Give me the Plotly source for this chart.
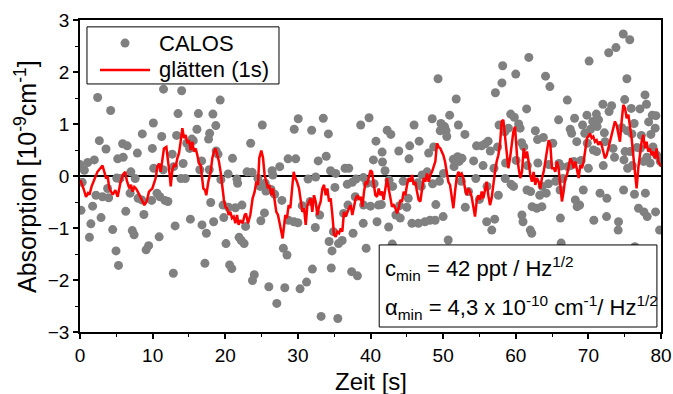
import plotly.graph_objects as go

# ---- data: CALOS raw points (time s, absorption 1e-9 cm^-1) ----
calos_t = [0.0, 0.14, 0.3, 0.6, 1.06, 1.3, 1.5, 1.74, 1.97, 2.2, 2.43, 2.66, 2.9, 3.1, 3.58, 3.8, 3.95,
           4.22, 4.5, 4.96, 5.05, 5.19, 5.3, 5.5, 5.87, 5.95, 6.3, 6.5, 6.9, 7.0, 7.2, 7.45, 7.6, 7.9,
           8.0, 8.5, 8.58, 8.8, 9.1, 9.45, 9.87, 9.96, 10.1, 10.15, 10.6, 10.9, 11.0, 11.25, 11.45, 11.5,
           11.7, 12.1, 12.7, 12.85, 12.9, 13.1, 13.3, 13.5, 13.9, 14.0, 14.2, 14.5, 14.7, 15.1, 15.2,
           15.4, 15.6, 16.1, 16.3, 16.5, 16.75, 16.8, 17.2, 17.4, 17.7, 17.8, 17.85, 18.0, 18.3, 18.4,
           18.7, 18.75, 19.0, 19.3, 19.4, 19.7, 19.8, 20.1, 20.4, 20.45, 20.6, 20.9, 21.0, 21.4, 21.6,
           21.7, 21.9, 22.2, 22.3, 22.6, 22.8, 23.0, 23.5, 23.7, 23.75, 24.0, 24.5, 24.8, 24.9, 25.1,
           25.4, 25.5, 25.6, 26.0, 26.3, 26.45, 26.55, 26.8, 27.1, 27.5, 27.8, 28.0, 28.2, 28.5, 28.65,
           28.7, 29.5, 29.45, 29.7, 30.0, 30.05, 30.3, 30.6, 31.2, 31.4, 31.7, 31.9, 32.0, 32.4, 32.45,
           32.8, 33.0, 33.2, 33.5, 33.9, 34.2, 34.3, 34.5, 34.6, 34.7, 34.9, 35.1, 35.2, 35.5, 35.6,
           36.1, 36.3, 36.5, 36.8, 36.9, 37.0, 37.4, 37.5, 37.6, 37.9, 38.0, 38.2, 38.65, 39.0, 39.02,
           39.05, 39.4, 39.5, 39.8, 40.0, 40.4, 40.5, 40.75, 40.9, 41.1, 41.5, 41.6, 41.65, 42.0, 42.3,
           42.5, 42.55, 42.8, 43.0, 43.05, 43.5, 43.9, 44.0, 44.1, 44.5, 45.0, 45.2, 45.3, 45.4, 45.7,
           46.0, 46.5, 46.6, 46.7, 47.0, 47.1, 47.5, 47.8, 48.0, 48.2, 48.5, 48.55, 48.7, 48.9, 49.0,
           49.3, 49.5, 49.6, 49.7, 50.0, 50.05, 50.2, 50.4, 50.5, 50.7, 50.9, 51.4, 51.5, 51.8, 52.0,
           52.1, 52.2, 52.5, 52.6, 53.0, 53.05, 53.5, 54.2, 54.5, 54.6, 55.0, 55.3, 55.5, 55.8, 56.0,
           56.05, 56.2, 56.5, 56.7, 57.0, 57.1, 57.2, 57.5, 57.6, 57.7, 58.1, 58.2, 58.5, 58.55, 58.6,
           59.0, 59.3, 59.35, 59.7, 59.8, 60.0, 60.05, 60.4, 60.6, 60.8, 60.85, 61.0, 61.1, 61.5,
           61.55, 61.6, 61.8, 62.0, 62.05, 62.2, 62.25, 62.7, 62.9, 63.0, 63.05, 63.3, 63.6, 63.65,
           63.8, 64.1, 64.2, 64.5, 64.55, 64.7, 65.1, 65.5, 65.9, 65.95, 66.1, 66.15, 66.2, 66.25,
           66.5, 67.1, 67.15, 67.5, 67.55, 67.7, 68.0, 68.1, 68.2, 68.4, 68.45, 68.8, 69.0, 69.2, 69.3,
           69.5, 69.8, 69.85, 70.0, 70.1, 70.3, 70.6, 70.7, 70.75, 71.1, 71.15, 71.2, 71.4, 71.6, 72.0,
           72.05, 72.2, 72.3, 72.5, 72.55, 72.8, 72.85, 73.2, 73.4, 73.6, 73.8, 74.1, 74.15, 74.6,
           74.8, 74.85, 74.9, 75.0, 75.05, 75.3, 75.35, 75.4, 75.7, 75.75, 75.9, 76.0, 76.05, 76.3,
           76.35, 76.4, 76.7, 76.9, 77.1, 77.15, 77.3, 77.6, 77.65, 77.8, 77.85, 78.0, 78.05, 78.1,
           78.3, 78.5, 78.6, 78.8, 78.9, 79.2, 79.25, 79.3, 79.4, 79.8, 79.9]
calos_v = [0.22, -0.66, -0.12, 0.11, 0.26, -1.18, -0.92, -0.58, 0.31, -0.37, 1.51, 0.68, -0.80, -0.40, 0.52, -0.24, -0.42,
           1.26, -1.03, -1.44, -0.04, 0.33, -1.72, -0.05, 0.62, 0.36, -0.68, 0.58, -0.33, 0.08, -1.05, -1.13, -0.05, 0.44,
           -0.43, -0.46, 0.81, -0.74, -1.42, -1.34, -0.47, 0.53, 1.02, 0.15, -0.33, -1.17, -0.40, 0.76, 0.12, 1.67,
           -0.47, -0.49, 0.42, -1.87, 0.18, -0.96, 0.78, 1.20, -0.05, 1.64, 0.24, -0.05, 0.63, 0.53, -0.83,
           0.71, 0.68, 0.90, 1.20, 0.12, 0.29, -0.94, -1.68, -1.10, 0.71, 0.12, 0.82, -0.51, 1.19, -0.88,
           0.97, 0.48, 0.42, 1.46, -0.07, -0.56, -0.80, -1.30, 0.04, -0.60, -1.71, -1.78, 0.34, -0.61, -0.06,
           -0.14, -1.18, -1.24, -0.56, -1.30, -0.97, 0.08, 0.63, 0.07, -2.01, -1.90, -0.05, -0.20, -0.86, 0.98,
           -0.71, -0.14, -0.29, -2.13, -0.26, 0.10, 0.02, -0.35, -2.45, 0.18, -0.47, -1.39, -2.15, -1.52, 0.33,
           -0.85, 0.90, -0.88, 0.33, -0.90, 1.10, -2.17, -0.57, -2.04, -0.06, -0.49, 0.88, -1.79, -0.99, -0.02,
           0.29, -0.75, -2.70, 1.11, 0.38, 0.81, -1.26, 0.10, -1.77, -1.44, -1.07, -0.22, 0.05, -2.74, -1.30,
           -1.24, -0.72, 0.15, -0.16, -0.56, 0.15, -1.84, -0.12, -1.10, -0.40, -0.06, -1.92, 0.98, -0.91, -0.03,
           -0.56, -1.39, -0.14, 1.12, -0.58, 0.31, -0.15, 0.67, -0.88, -0.56, -0.55, 0.46, 0.27, 0.10, 0.88,
           -0.98, -0.08, 0.80, -1.31, -0.20, -0.75, 0.48, -0.57, -0.81, -0.10, -0.60, -0.43, 0.33, 0.58, -0.91,
           0.98, -0.13, -0.91, 0.67, -0.20, 0.02, -0.88, 0.08, 0.44, -0.85, 1.10, -0.15, 0.56, -0.85, -0.55,
           1.87, -0.10, 0.87, 1.01, -0.78, 0.05, 0.95, 0.87, 0.76, -1.23, 1.17, 0.32, 0.18, 1.48, 0.37,
           0.98, 0.28, -0.10, 0.34, 0.80, -0.60, -0.30, 0.29, -0.05, 0.58, -0.45, 0.58, 0.20, 0.62, -0.88,
           -0.20, 0.67, 0.48, -1.04, 0.15, -0.83, 1.60, 0.56, -0.37, 0.98, 1.79, 2.12, 0.85, -0.05, 0.25,
           0.92, 1.19, -0.16, -0.20, 1.13, 1.96, 0.30, 1.00, 0.92, 0.64, -0.75, -0.88, 0.56, 1.29,
           -0.27, 0.20, 2.28, -1.04, -0.30, -1.10, -0.59, 0.87, -0.62, 0.70, 0.25, -0.37, -0.59, -0.20,
           0.74, 1.92, -0.33, -0.15, 0.22, 1.72, 0.63, -0.10, 1.08, 0.24, -0.27, -0.81, 0.19, -1.29,
           -0.05, 1.46, 0.18, 0.90, 0.20, 0.82, 0.28, 1.11, -0.46, 0.66, -0.59, -0.56, 0.30, 0.98, -0.27,
           0.82, 1.17, 0.63, 0.15, 2.21, 0.90, 1.05, 0.50, -0.85, 1.19, 0.47, 0.95, 1.08, -0.33, 1.38,
           0.20, 0.83, 0.66, -0.78, -0.43, 2.37, 1.24, 1.35, 0.53, 0.36, 2.47, -1.04, -0.88, 0.93,
           2.73, -0.27, 0.31, 1.47, 0.47, 1.87, 0.87, 0.15, 2.62, 0.47, 1.30, 0.81, 0.20, 1.01,
           -0.35, -1.36, 0.55, -0.62, 1.29, 0.53, 0.78, 0.28, -0.69, 1.56, -0.33, 1.38, 0.36, -0.78,
           1.04, 0.25, 0.80, 1.17, 0.56, 0.92, -0.69, 1.16, 0.40, -1.04, 0.28]

# ---- data: smoothed curve "glätten (1s)" ----
smooth_t = [0.0, 0.14, 0.5, 0.83, 1.1, 1.3, 1.6, 1.97, 2.4, 2.8, 3.1, 3.35, 3.6, 3.8, 4.04, 4.5, 4.87, 5.19,
            5.55, 5.88, 6.24, 6.43, 6.79, 7.02, 7.25, 7.48, 7.71, 7.95, 8.17, 8.54, 8.86, 9.18, 9.5, 9.96,
            10.42, 10.65, 10.88, 11.11, 11.56, 11.89, 12.16, 12.35, 12.49, 12.72, 12.94, 13.17, 13.4,
            13.63, 13.86, 14.09, 14.32, 14.55, 14.78, 15.0, 15.24, 15.47, 15.7, 15.93, 16.16, 16.39,
            16.61, 16.75, 16.98, 17.21, 17.39, 17.67, 17.99, 18.22, 18.45, 18.67, 18.9, 19.13, 19.36,
            19.59, 19.82, 20.05, 20.24, 20.47, 20.7, 20.93, 21.16, 21.39, 21.62, 21.84, 22.07, 22.4,
            22.67, 22.85, 23.13, 23.45, 23.77, 24.05, 24.28, 24.5, 24.69, 24.97, 25.2, 25.42, 25.65,
            25.88, 26.07, 26.34, 26.57, 26.8, 27.03, 27.26, 27.49, 27.72, 27.9, 28.09, 28.27, 28.5,
            28.73, 28.96, 29.19, 29.42, 29.65, 29.88, 30.16, 30.39, 30.62, 30.85, 31.08, 31.31, 31.54,
            31.76, 31.99, 32.22, 32.45, 32.68, 32.91, 33.14, 33.37, 33.6, 33.83, 34.06, 34.29, 34.52,
            34.75, 34.98, 35.21, 35.44, 35.67, 35.9, 36.12, 36.35, 36.58, 36.81, 37.04, 37.27, 37.5,
            37.73, 37.96, 38.19, 38.42, 38.65, 38.88, 39.11, 39.34, 39.57, 39.8, 40.0, 40.21, 40.44,
            40.67, 40.9, 41.13, 41.36, 41.59, 41.81, 42.04, 42.27, 42.5, 42.73, 42.96, 43.19, 43.42,
            43.65, 43.88, 44.11, 44.34, 44.57, 44.8, 45.03, 45.26, 45.49, 45.72, 45.94, 46.17, 46.4,
            46.63, 46.86, 47.09, 47.32, 47.55, 47.78, 48.01, 48.24, 48.47, 48.7, 48.93, 49.16, 49.39,
            49.62, 49.85, 50.03, 50.26, 50.49, 50.72, 50.95, 51.18, 51.41, 51.64, 51.86, 52.09, 52.32,
            52.55, 52.78, 53.01, 53.24, 53.47, 53.7, 53.93, 54.16, 54.39, 54.62, 54.85, 55.08, 55.31,
            55.54, 55.77, 55.99, 56.22, 56.45, 56.68, 56.91, 57.14, 57.37, 57.6, 57.83, 58.06, 58.29,
            58.52, 58.75, 58.98, 59.21, 59.44, 59.67, 59.9, 60.17, 60.4, 60.63, 60.86, 61.09, 61.32,
            61.55, 61.77, 62.0, 62.23, 62.46, 62.69, 62.92, 63.15, 63.38, 63.61, 63.84, 64.07, 64.3,
            64.53, 64.76, 64.99, 65.22, 65.45, 65.68, 65.9, 66.13, 66.36, 66.59, 66.82, 67.05, 67.28,
            67.51, 67.74, 67.97, 68.2, 68.43, 68.66, 68.89, 69.12, 69.35, 69.58, 69.81, 70.0, 70.22,
            70.45, 70.68, 70.91, 71.14, 71.37, 71.6, 71.82, 72.05, 72.28, 72.51, 72.74, 72.97, 73.2,
            73.43, 73.66, 73.89, 74.12, 74.35, 74.58, 74.81, 75.04, 75.27, 75.5, 75.73, 75.95, 76.18,
            76.41, 76.64, 76.87, 77.1, 77.33, 77.56, 77.79, 78.02, 78.25, 78.48, 78.71, 78.94, 79.17,
            79.4, 79.63, 80.0]
smooth_v = [-0.08, -0.11, -0.25, -0.40, -0.33, -0.36, -0.20, -0.05, 0.08, 0.15, 0.20, 0.08, -0.05, 0.00, -0.24, -0.36, -0.27, -0.40,
            -0.14, 0.02, 0.08, -0.08, -0.24, -0.17, -0.30, -0.21, -0.24, -0.30, -0.36, -0.46, -0.56, -0.49, -0.30, -0.24,
            -0.04, 0.18, 0.24, 0.08, 0.53, 0.56, 0.28, 0.02, -0.20, 0.12, 0.21, 0.18, 0.34,
            0.44, 0.66, 0.92, 0.73, 0.79, 0.63, 0.69, 0.50, 0.66, 0.47, 0.53, 0.40, 0.24,
            0.21, 0.02, -0.24, -0.27, -0.37, -0.11, 0.08, 0.34, 0.47, 0.53, 0.40, 0.28, 0.08,
            -0.24, -0.46, -0.60, -0.62, -0.75, -0.69, -0.81, -0.78, -0.91, -0.75, -0.94, -0.85, -0.91,
            -0.75, -0.72, -0.91, -0.75, -0.43, -0.30, -0.11, -0.17, 0.35, 0.49, 0.35, 0.02, -0.11,
            -0.24, -0.17, -0.37, -0.24, -0.49, -0.69, -0.75, -0.88, -1.07, -1.20, -0.94, -0.75, -0.81,
            -0.56, -0.62, -0.24, 0.08, -0.04, -0.11, -0.24, -0.49, -0.69, -0.62, -0.94, -0.56, -0.49,
            -0.43, -0.69, -0.37, -0.49, -0.75, -0.59, -0.49, -0.24, -0.17, -0.37, -0.24, -0.49, -0.43,
            -0.75, -1.13, -1.17, -1.07, -1.10, -1.01, -1.07, -0.69, -0.78, -0.69, -0.62, -0.56, -0.75,
            -0.59, -0.43, -0.37, -0.46, -0.40, -0.59, -0.30, -0.11, -0.14, 0.02, 0.11, 0.08, -0.11,
            -0.37, -0.40, -0.24, -0.37, -0.30, -0.46, -0.24, -0.04, -0.24, -0.43, -0.59, -0.56, -0.62,
            -0.72, -0.62, -0.46, -0.49, -0.30, -0.37, -0.17, -0.04, -0.11, 0.02, -0.17, -0.11, -0.30,
            -0.46, -0.49, -0.24, -0.04, -0.11, 0.05, -0.11, 0.02, 0.08, 0.21, 0.28, 0.63, 0.56,
            0.53, 0.45, 0.40, 0.28, 0.08, -0.11, -0.17, -0.37, -0.62, -0.30, -0.04, 0.08, 0.02,
            0.05, -0.04, -0.24, -0.37, -0.24, -0.30, -0.40, -0.62, -0.78, -0.49, -0.37, -0.46, -0.30,
            -0.43, -0.24, -0.11, -0.37, -0.56, -0.43, -0.11, 0.08, 0.28, 0.40, 0.60, 1.05, 1.08,
            0.79, 0.40, 0.15, 0.34, 0.60, 0.85, 0.95, 0.40, 0.15, -0.04, 0.08, 0.53, 0.34,
            0.47, 0.28, 0.02, -0.11, 0.08, -0.17, -0.04, -0.11, -0.24, -0.04, 0.08, 0.28, 0.53,
            0.69, 0.60, 0.15, 0.15, 0.08, 0.28, 0.15, -0.17, -0.49, -0.30, -0.04, 0.02, 0.15,
            0.34, 0.28, 0.15, 0.28, 0.08, -0.04, 0.21, 0.15, 0.28, 0.47, 0.73, 0.76, 0.82,
            0.73, 0.76, 0.66, 0.69, 0.60, 0.66, 0.60, 0.47, 0.34, 0.40, 0.53, 0.66, 0.85,
            0.92, 1.05, 0.98, 0.79, 0.66, 1.05, 1.37, 1.31, 1.11, 1.18, 0.98, 0.73, 0.40,
            0.02, -0.24, 0.15, 0.40, 0.66, 0.79, 0.53, 0.66, 0.47, 0.53, 0.40, 0.47, 0.34,
            0.53, 0.28, 0.18]

x_ticks = [0, 10, 20, 30, 40, 50, 60, 70, 80]
y_ticks = [-3, -2, -1, 0, 1, 2, 3]

FONT = "Liberation Sans, Arial, sans-serif"
GREY = "#808080"
RED = "#ff0000"

fig = go.Figure()
fig.add_trace(go.Scatter(x=calos_t, y=calos_v, mode="markers", name="CALOS",
                         marker=dict(color=GREY, size=9, line=dict(width=0))))
fig.add_trace(go.Scatter(x=smooth_t, y=smooth_v, mode="lines", name="glätten (1s)",
                         line=dict(color=RED, width=2.5)))

axis_common = dict(showgrid=False, showline=True, linecolor="black", linewidth=1.5,
                   mirror=True, ticks="outside", ticklen=5, tickwidth=1.5, tickcolor="black",
                   automargin=False,
                   tickfont=dict(family=FONT, size=19, color="black"))

fig.update_xaxes(range=[0, 80], tickvals=x_ticks, zeroline=False,
                 minor=dict(ticks="outside", ticklen=3, tickwidth=1.2, tickcolor="black", dtick=5),
                 **axis_common)
fig.update_yaxes(range=[-3, 3], tickvals=y_ticks, zeroline=True, zerolinecolor="black", zerolinewidth=1.5,
                 minor=dict(ticks="outside", ticklen=3, tickwidth=1.2, tickcolor="black", dtick=0.5),
                 **axis_common)

# axis titles
fig.add_annotation(xref="paper", yref="paper", x=0.5, y=-0.158, xanchor="center", yanchor="middle",
                   showarrow=False, text="Zeit [s]",
                   font=dict(family=FONT, size=24, color="black"))
fig.add_annotation(xref="paper", yref="paper", x=-0.093, y=0.5, xanchor="center", yanchor="middle",
                   showarrow=False, textangle=-90,
                   text="Absorption [10<sup>-9</sup>cm<sup>-1</sup>]",
                   font=dict(family=FONT, size=25, color="black"))

# legend (drawn as box, symbols and text)
fig.add_shape(type="rect", xref="paper", yref="paper", x0=0.012, x1=0.3425, y0=0.795, y1=0.978,
              line=dict(color="black", width=1), fillcolor="white", layer="above")
fig.add_shape(type="circle", xref="paper", yref="paper", xsizemode="pixel", ysizemode="pixel",
              xanchor=0.0775, yanchor=0.926, x0=-4.5, x1=4.5, y0=-4.5, y1=4.5,
              line=dict(width=0), fillcolor=GREY, layer="above")
fig.add_shape(type="line", xref="paper", yref="paper", x0=0.0344, x1=0.1205, y0=0.84, y1=0.84,
              line=dict(color=RED, width=2.5), layer="above")
fig.add_annotation(xref="paper", yref="paper", x=0.1325, y=0.926, xanchor="left", yanchor="middle",
                   showarrow=False, text="CALOS", font=dict(family=FONT, size=22, color="black"))
fig.add_annotation(xref="paper", yref="paper", x=0.1325, y=0.84, xanchor="left", yanchor="middle",
                   showarrow=False, text="glätten (1s)", font=dict(family=FONT, size=22, color="black"))

# annotation box
fig.add_shape(type="rect", xref="paper", yref="paper", x0=0.515, x1=0.993, y0=0.016, y1=0.279,
              line=dict(color="black", width=1), fillcolor="white", layer="above")
fig.add_annotation(xref="paper", yref="paper", x=0.521, y=0.205, xanchor="left", yanchor="middle",
                   showarrow=False, align="left",
                   text="c<sub>min</sub> = 42 ppt / Hz<sup>1/2</sup>",
                   font=dict(family=FONT, size=22, color="black"))
fig.add_annotation(xref="paper", yref="paper", x=0.521, y=0.08, xanchor="left", yanchor="middle",
                   showarrow=False, align="left",
                   text="α<sub>min</sub> = 4,3 x 10<sup>-10</sup> cm<sup>-1</sup>/ Hz<sup>1/2</sup>",
                   font=dict(family=FONT, size=22, color="black"))

fig.update_layout(
    width=673, height=394,
    margin=dict(l=80, r=12, t=20, b=62),
    paper_bgcolor="white", plot_bgcolor="white",
    showlegend=False,
)

fig.write_html("out.html")
